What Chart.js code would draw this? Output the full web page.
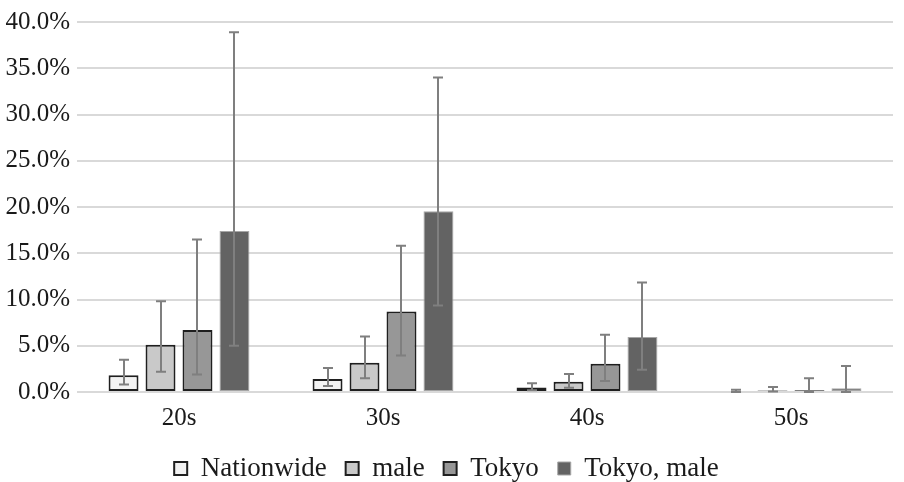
<!DOCTYPE html>
<html>
<head>
<meta charset="utf-8">
<script src="https://cdn.jsdelivr.net/npm/chart.js@4/dist/chart.umd.min.js"></script>
<style>
  html, body { margin: 0; padding: 0; background: #fff; }
  #wrap { width: 904px; height: 482px; }
</style>
</head>
<body>
<div id="wrap"><canvas id="chart" width="904" height="482"></canvas></div>
<script>
// Values in percent
const categories = ['20s', '30s', '40s', '50s'];

const nationwide = [1.8, 1.4, 0.5, 0.1];
const nationwideLow = [0.8, 0.65, 0.2, 0.0];
const nationwideHigh = [3.5, 2.6, 0.95, 0.25];

const male = [5.1, 3.15, 1.1, 0.15];
const maleLow = [2.2, 1.5, 0.45, 0.05];
const maleHigh = [9.8, 6.0, 1.95, 0.55];

const tokyo = [6.7, 8.7, 3.05, 0.2];
const tokyoLow = [1.9, 3.95, 1.2, 0.0];
const tokyoHigh = [16.5, 15.8, 6.2, 1.5];

const tokyoMale = [17.4, 19.55, 5.95, 0.4];
const tokyoMaleLow = [5.0, 9.35, 2.4, 0.0];
const tokyoMaleHigh = [38.9, 34.0, 11.85, 2.8];

const yTicks = [0, 5, 10, 15, 20, 25, 30, 35, 40];

const FONT = "'Liberation Serif', 'Times New Roman', Times, serif";

// Draws error bars from each dataset's low / high arrays
const errorBars = {
  id: 'errorBars',
  afterDatasetsDraw(chart) {
    const ctx = chart.ctx;
    const y = chart.scales.y;
    ctx.save();
    ctx.strokeStyle = '#7f7f7f';
    ctx.lineWidth = 2;
    chart.data.datasets.forEach((ds, i) => {
      const meta = chart.getDatasetMeta(i);
      if (meta.hidden) return;
      meta.data.forEach((bar, j) => {
        const top = y.getPixelForValue(ds.high[j]);
        const bottom = y.getPixelForValue(ds.low[j]);
        const x = Math.round(bar.x);
        ctx.beginPath();
        ctx.moveTo(x, top);
        ctx.lineTo(x, bottom);
        ctx.moveTo(x - 5, top);
        ctx.lineTo(x + 5, top);
        ctx.moveTo(x - 5, bottom);
        ctx.lineTo(x + 5, bottom);
        ctx.stroke();
      });
    });
    ctx.restore();
  }
};

new Chart(document.getElementById('chart'), {
  type: 'bar',
  data: {
    labels: categories,
    datasets: [
      { label: 'Nationwide', data: nationwide, low: nationwideLow, high: nationwideHigh,
        backgroundColor: '#f2f2f2', borderColor: '#1f1f1f', borderWidth: 2 },
      { label: 'male', data: male, low: maleLow, high: maleHigh,
        backgroundColor: '#c9c9c9', borderColor: '#1f1f1f', borderWidth: 2 },
      { label: 'Tokyo', data: tokyo, low: tokyoLow, high: tokyoHigh,
        backgroundColor: '#979797', borderColor: '#1f1f1f', borderWidth: 2 },
      { label: 'Tokyo, male', data: tokyoMale, low: tokyoMaleLow, high: tokyoMaleHigh,
        backgroundColor: '#636363', borderColor: '#a6a6a6', borderWidth: 1 },
    ],
  },
  options: {
    responsive: false,
    animation: false,
    categoryPercentage: 0.725,
    barPercentage: 0.81,
    layout: {
      padding: { top: 12, right: 11, bottom: -10, left: 0 },
    },
    datasets: {
      bar: { borderSkipped: false },
    },
    scales: {
      x: {
        grid: { display: false },
        border: { display: false },
        ticks: {
          color: '#1a1a1a',
          padding: 3,
          font: { family: FONT, size: 25 },
        },
      },
      y: {
        min: 0,
        max: 40,
        afterBuildTicks: (scale) => {
          scale.ticks = yTicks.map((v) => ({ value: v }));
        },
        afterFit: (scale) => { scale.width = 77; },
        grid: { color: '#d9d9d9', lineWidth: 2, drawTicks: false },
        border: { display: false },
        ticks: {
          color: '#1a1a1a',
          padding: 7,
          font: { family: FONT, size: 25 },
          callback: (v) => v.toFixed(1) + '%',
        },
      },
    },
    plugins: {
      legend: {
        position: 'bottom',
        labels: {
          color: '#1a1a1a',
          boxWidth: 13,
          boxHeight: 13,
          padding: 19,
          font: { family: FONT, size: 27 },
        },
      },
      tooltip: { enabled: false },
    },
  },
  plugins: [errorBars],
});
</script>
</body>
</html>
